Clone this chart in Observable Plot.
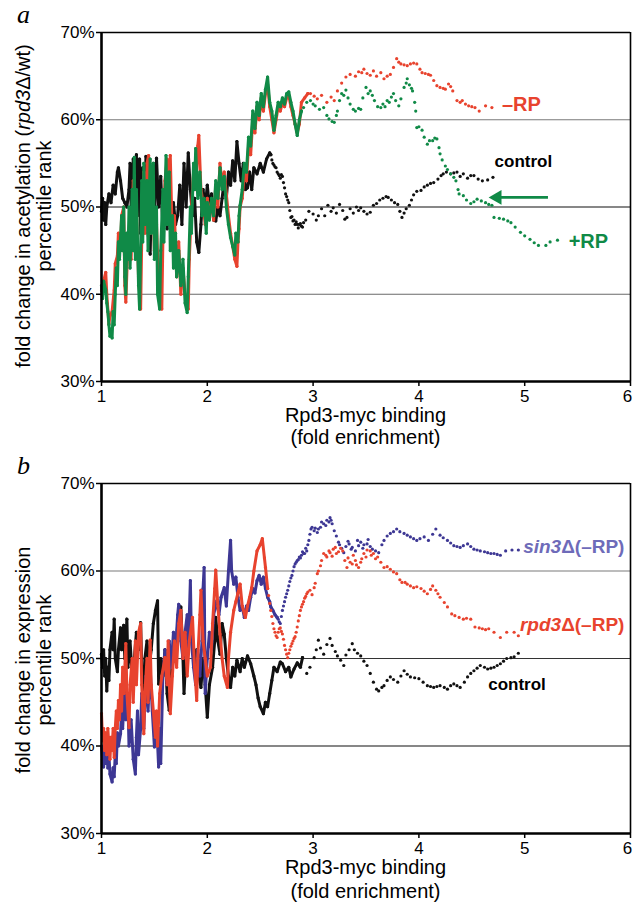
<!DOCTYPE html>
<html><head><meta charset="utf-8">
<script src="https://cdn.jsdelivr.net/npm/d3@7"></script>
<script src="https://cdn.jsdelivr.net/npm/@observablehq/plot@0.6"></script>
<style>
body{margin:0;background:#fff;}
#wrap{position:relative;width:633px;height:902px;overflow:hidden;background:#fff;}
#wrap svg{position:absolute;left:0;}
</style></head><body><div id="wrap"></div>
<script>
// ---------- data: [fold enrichment, percentile rank %] ----------
const xTicks = [1, 2, 3, 4, 5, 6];
const yTicks = [30, 40, 50, 60, 70];

// panel a – acetylation
const accControl = [[1.00,49.5],[1.01,51],[1.02,48.5],[1.03,50.5],[1.04,48],[1.05,50],[1.07,51.5],[1.09,50.5],[1.11,52.5],[1.13,51.5],[1.15,54],[1.16,54.5],[1.18,53],[1.20,51],[1.22,50.5],[1.24,50],[1.26,52],[1.27,55],[1.28,50],[1.30,55.5],[1.31,48.5],[1.33,56],[1.34,49],[1.36,55.5],[1.37,47],[1.39,54.5],[1.41,49],[1.42,55.8],[1.44,47],[1.46,44.6],[1.47,50],[1.49,55],[1.50,48],[1.52,55.6],[1.54,50],[1.56,53.5],[1.58,47.5],[1.60,52],[1.62,47.5],[1.64,51],[1.66,47.5],[1.68,50.5],[1.70,48],[1.72,49],[1.74,52.5],[1.76,48],[1.78,55],[1.80,50],[1.82,56.2],[1.84,52],[1.86,49],[1.88,51],[1.90,46],[1.92,44.8],[1.94,48],[1.96,52],[1.98,50],[2.00,52.5],[2.02,50],[2.04,51.5],[2.06,48.5],[2.08,48.4],[2.10,50],[2.12,49],[2.14,51],[2.16,53],[2.18,51],[2.20,54],[2.22,52.5],[2.24,55.3],[2.26,53],[2.28,57.5],[2.30,55],[2.32,53],[2.34,55],[2.36,52],[2.38,52.2],[2.40,54],[2.42,52],[2.44,54.5],[2.47,53.8],[2.50,55],[2.53,54],[2.56,55.5],[2.59,56.2],
  [2.60,56.0],[2.61,55.4],[2.62,55],[2.63,54.8],[2.64,54.6],[2.65,54.5],[2.66,54.0],[2.67,53.8],[2.68,53.6],[2.69,53.3],[2.70,53.7],[2.71,53.5],[2.72,52.8],[2.73,52.2],[2.74,51.5],[2.75,51.2],[2.76,50.8],[2.77,50.5],[2.78,49.6],[2.79,48.8],[2.80,48.9],[2.81,48.4],[2.82,48.5],[2.83,48.0],[2.84,48.3],[2.85,48],[2.86,47.6],[2.87,48.0],[2.88,48.1],[2.89,47.8],[2.90,47.7],[2.91,48.2],
  [2.93,48.5],[2.96,49.5],[3.00,49.2],[3.03,48.5],[3.05,49.0],[3.08,49.8],[3.11,49.0],[3.14,50.2],[3.17,49.5],[3.19,49.9],[3.22,49.3],[3.25,50.3],[3.28,49.6],[3.30,48.6],[3.32,48.8],[3.35,49.8],[3.38,49.3],[3.41,50.0],[3.43,49.6],[3.45,49.9],[3.48,49.5],[3.51,49.2],[3.54,49.4],[3.57,50.2],[3.60,50.4],[3.63,50.8],[3.66,51.0],[3.69,51.2],[3.71,51.1],[3.74,50.8],[3.77,50.5],[3.80,50.3],[3.82,49.5],[3.84,48.8],[3.86,49.3],[3.88,49.8],[3.91,50.2],[3.93,50.8],[3.95,51.4],[3.98,51.8],[4.02,51.9],[4.05,52.3],[4.08,52.5],[4.11,52.7],[4.14,52.8],[4.18,53.2],[4.21,53.6],[4.23,53.8],[4.26,54.0],[4.30,53.8],[4.33,53.9],[4.36,54.0],[4.39,53.5],[4.42,53.8],[4.46,53.3],[4.49,53.6],[4.52,53.6],[4.56,53.2],[4.60,53.0],[4.65,53.1],[4.70,53.4]];

const accMinusRP = [[1.00,40.4],[1.02,41.5],[1.04,42.5],[1.05,40],[1.07,36.6],[1.08,37.5],[1.10,38],[1.12,40.5],[1.13,43.5],[1.15,44.4],[1.16,47],[1.18,45],[1.19,49],[1.21,50],[1.22,41],[1.23,39.1],[1.25,46],[1.27,49],[1.28,44],[1.30,53],[1.31,46],[1.33,50],[1.35,42],[1.37,38.3],[1.38,46],[1.40,54],[1.41,47],[1.43,55],[1.445,55.9],[1.46,47],[1.48,54],[1.50,45],[1.52,48],[1.54,41],[1.57,38.3],[1.58,46],[1.60,53],[1.62,55.5],[1.64,50],[1.65,55.9],[1.67,46],[1.69,49],[1.71,42],[1.73,46],[1.75,40],[1.77,43],[1.79,40],[1.82,38.3],[1.83,44],[1.85,50],[1.87,54],[1.89,52],[1.91,57],[1.92,58.2],[1.94,52],[1.96,50.5],[1.98,48],[2.00,51],[2.02,49],[2.04,50.7],[2.06,48.5],[2.08,52.5],[2.10,50],[2.12,55],[2.14,52.5],[2.16,54],[2.18,51.5],[2.20,49],[2.22,47],[2.24,45.5],[2.26,44],[2.28,43.2],[2.29,46],[2.30,47.5],[2.31,50],[2.33,51],[2.35,54],[2.37,53],[2.39,57],[2.41,56],[2.43,60],[2.45,58.5],[2.47,61.5],[2.49,60],[2.51,62.5],[2.53,61],[2.55,63],[2.57,64],[2.59,61.5],[2.61,60],[2.63,58.5],[2.65,60],[2.67,61.5],[2.69,61],[2.71,62],[2.73,61.5],[2.75,62.5],[2.77,62.8],[2.79,61.5],[2.81,60.5],[2.83,59.5],[2.85,58.5],[2.87,59.5],[2.89,62],[2.92,62.5],[2.95,63],
  [2.975,63.0],[3.01,62.7],[3.04,62.4],[3.08,62.8],[3.13,62.0],[3.17,62.6],[3.20,62.2],[3.23,63.3],[3.27,64.2],[3.31,64.9],[3.35,65.2],[3.40,65.0],[3.43,65.5],[3.46,65.4],[3.48,65.8],[3.51,65.3],[3.54,65.1],[3.57,65.6],[3.60,65.0],[3.64,65.4],[3.67,64.7],[3.70,65.0],[3.73,65.2],[3.76,66.0],[3.79,67.0],[3.81,66.6],[3.83,66.4],[3.86,66.3],[3.89,66.2],[3.92,66.4],[3.95,66.5],[3.98,66.4],[4.01,65.8],[4.03,65.4],[4.06,65.3],[4.09,65.2],[4.11,65.1],[4.14,64.5],[4.17,63.9],[4.20,63.7],[4.23,63.6],[4.25,63.5],[4.28,64.1],[4.30,63.8],[4.32,63.3],[4.36,62.2],[4.39,62.0],[4.41,62.2],[4.44,61.8],[4.47,61.6],[4.50,61.5],[4.53,61.4],[4.57,61.0],[4.63,61.6],[4.69,61.4]];

const accPlusRP = [[1.00,41],[1.01,39.5],[1.02,41.5],[1.04,40.5],[1.05,39],[1.06,38],[1.07,36.5],[1.08,35.2],[1.09,36],[1.10,35],[1.11,38],[1.12,36.5],[1.13,40],[1.14,43],[1.15,41],[1.16,46],[1.17,44],[1.19,49],[1.20,45],[1.21,50],[1.22,42],[1.23,40],[1.24,47],[1.25,44],[1.26,50],[1.27,43],[1.29,52],[1.30,45],[1.31,55.7],[1.32,44],[1.33,52],[1.35,41],[1.36,38.3],[1.37,45],[1.38,53],[1.39,46],[1.40,55],[1.41,48],[1.43,53],[1.44,45],[1.46,55.5],[1.47,47],[1.49,55],[1.50,44],[1.52,50],[1.53,40],[1.55,38.3],[1.56,45],[1.58,52],[1.59,46],[1.61,55.9],[1.62,48],[1.64,54],[1.65,45],[1.67,49],[1.68,43],[1.70,47],[1.71,42],[1.73,45],[1.75,41],[1.77,44],[1.79,39],[1.81,37.9],[1.82,42],[1.84,50],[1.85,47],[1.87,55],[1.88,52],[1.89,56.7],[1.91,51],[1.93,54],[1.95,49],[1.97,51],[1.99,47],[2.00,50.5],[2.02,48.5],[2.04,51],[2.06,49],[2.08,53],[2.10,51],[2.12,54.5],[2.14,52],[2.16,53.5],[2.18,50],[2.20,48],[2.22,46.5],[2.24,45.5],[2.26,44.5],[2.27,47],[2.29,46],[2.30,49],[2.31,50.2],[2.33,52],[2.35,55],[2.37,54],[2.39,58],[2.41,57],[2.43,61],[2.45,59],[2.47,62],[2.49,60.5],[2.51,63],[2.53,61.5],[2.55,63.5],[2.57,64.9],[2.59,62],[2.61,61],[2.63,58.8],[2.65,60.5],[2.67,62],[2.69,61.5],[2.71,62.5],[2.73,61.8],[2.75,63],[2.77,63.2],[2.79,62],[2.81,61],[2.83,59.5],[2.85,58.2],[2.87,60],[2.89,61],
  [2.91,61.4],[2.94,62.0],[2.975,62.2],[3.00,61.8],[3.02,61.6],[3.06,61.2],[3.10,61.4],[3.13,60.5],[3.15,60.1],[3.18,59.8],[3.20,59.7],[3.22,60.5],[3.23,61.0],[3.25,62.2],[3.27,63.0],[3.29,62.8],[3.31,63.4],[3.33,62.5],[3.35,61.8],[3.38,61.2],[3.40,61.0],[3.43,61.3],[3.45,61.2],[3.47,62.5],[3.50,63.7],[3.52,63.0],[3.54,63.3],[3.56,62.8],[3.58,62.2],[3.61,61.5],[3.64,61.4],[3.66,61.8],[3.68,61.5],[3.70,62.2],[3.72,62.0],[3.74,62.6],[3.76,63.0],[3.78,62.2],[3.81,61.6],[3.83,62.4],[3.86,63.7],[3.88,64.2],[3.89,64.7],[3.91,64.0],[3.93,63.6],[3.94,63.3],[3.96,62.0],[3.97,61.0],[3.98,59.1],[4.00,59.2],[4.03,58.8],[4.05,58.0],[4.08,57.2],[4.10,57.6],[4.13,57.6],[4.15,57.9],[4.17,57.8],[4.19,56.8],[4.20,56.1],[4.22,55.4],[4.25,54.7],[4.27,54.3],[4.30,53.8],[4.33,53.4],[4.35,53.0],[4.37,52.0],[4.38,51.5],[4.42,51.3],[4.45,50.8],[4.49,50.4],[4.52,50.6],[4.55,50.9],[4.59,50.7],[4.63,50.5],[4.66,50.3],[4.69,50.2],[4.71,48.8],[4.76,48.7],[4.80,48.6],[4.84,48.4],[4.87,48.2],[4.91,47.7],[4.96,47.1],[5.00,46.7],[5.05,46.3],[5.09,45.9],[5.13,45.6],[5.20,45.6],[5.24,46.0],[5.31,46.2]];

// panel b – expression
const exprControl = [[1.00,50.5],[1.01,49],[1.02,51],[1.03,48],[1.04,50],[1.05,46.3],[1.06,49],[1.07,47.5],[1.08,51],[1.10,53],[1.11,51],[1.12,54.5],[1.13,50],[1.15,48.5],[1.16,51],[1.18,53.5],[1.19,51],[1.21,53.8],[1.22,50],[1.24,54.5],[1.25,49],[1.27,52],[1.29,48],[1.31,50],[1.33,53],[1.35,51],[1.37,54.1],[1.38,49],[1.40,46],[1.41,50],[1.43,52],[1.45,49],[1.47,51],[1.49,54],[1.51,55.5],[1.53,56.6],[1.54,47.1],[1.56,50],[1.58,48],[1.60,51],[1.62,46],[1.64,44.1],[1.66,48],[1.68,52],[1.70,50],[1.72,54],[1.74,53],[1.75,55.9],[1.77,50],[1.78,46],[1.80,51],[1.82,53],[1.84,54.7],[1.86,52],[1.88,49],[1.90,51],[1.92,48],[1.94,46.7],[1.96,50],[1.98,47],[2.00,43.3],[2.02,47],[2.05,49],[2.07,52],[2.08,54.7],[2.10,52],[2.12,50.5],[2.14,54],[2.16,52.8],[2.18,50],[2.20,48],[2.22,46.7],[2.24,49],[2.26,48],[2.28,49.8],[2.31,48.5],[2.33,50],[2.35,49],[2.38,50.3],[2.41,49.4],[2.44,48],[2.46,47],[2.48,45.5],[2.50,44.5],[2.53,43.7],[2.55,45],[2.57,44.5],[2.59,46],[2.61,47.5],[2.63,49],[2.66,48.5],[2.69,49.6],[2.71,49.4],[2.74,48.5],[2.77,49],[2.79,47.9],[2.82,48.8],[2.85,49.5],[2.88,49.0],[2.90,50.1],
  [2.94,48.3],[2.97,49.0],[3.01,50.1],[3.03,51.0],[3.05,52.1],[3.07,51.2],[3.10,50.5],[3.13,51.6],[3.16,52.3],[3.18,51.5],[3.21,50.8],[3.23,50.3],[3.26,49.8],[3.29,49.2],[3.31,50.4],[3.34,51.0],[3.37,51.7],[3.39,51.0],[3.42,50.6],[3.45,50.3],[3.48,49.7],[3.51,49.2],[3.54,48.3],[3.57,47.3],[3.60,46.5],[3.62,46.3],[3.65,46.7],[3.67,46.9],[3.70,47.5],[3.73,47.9],[3.76,47.6],[3.80,47.3],[3.83,48.0],[3.86,48.6],[3.89,48.2],[3.92,47.9],[3.96,47.8],[4.00,47.7],[4.04,47.3],[4.08,46.9],[4.11,46.8],[4.14,46.7],[4.17,46.8],[4.20,46.9],[4.24,46.7],[4.27,46.5],[4.30,46.9],[4.33,47.1],[4.36,46.9],[4.39,46.7],[4.43,47.3],[4.46,47.9],[4.49,48.3],[4.52,48.6],[4.55,48.9],[4.58,49.2],[4.62,49.0],[4.65,48.8],[4.68,48.9],[4.71,49.0],[4.74,49.2],[4.77,49.4],[4.80,49.7],[4.83,50.0],[4.87,50.1],[4.90,50.2],[4.94,50.6]];

const exprSin3 = [[1.00,40],[1.01,38.5],[1.02,37.6],[1.03,40.5],[1.04,38],[1.05,39.5],[1.06,37.5],[1.07,39],[1.08,36.8],[1.10,35.9],[1.11,37.5],[1.12,36.5],[1.13,39],[1.14,38],[1.15,41.5],[1.16,40],[1.18,41.4],[1.19,44],[1.20,42],[1.22,47],[1.23,43],[1.25,45],[1.26,40],[1.28,43],[1.30,38.5],[1.32,36.8],[1.33,41],[1.34,44],[1.35,39],[1.37,42],[1.38,46],[1.40,42],[1.42,48],[1.44,44],[1.46,49],[1.48,44],[1.50,39.9],[1.52,43],[1.54,37.6],[1.55,42],[1.56,38],[1.58,48],[1.60,51],[1.62,47],[1.64,52],[1.66,49],[1.68,53],[1.70,51],[1.72,55],[1.73,56.2],[1.75,52],[1.77,50],[1.79,53],[1.81,55],[1.82,51],[1.84,58.9],[1.85,52],[1.87,49],[1.89,47],[1.91,51],[1.93,48],[1.95,52],[1.96,58],[1.97,60.4],[1.98,46],[2.00,50],[2.02,53],[2.04,51],[2.06,55],[2.09,56.6],[2.11,55],[2.13,57],[2.16,58.1],[2.18,56],[2.20,60],[2.22,63.5],[2.23,60],[2.25,58.5],[2.27,59.3],[2.29,57],[2.31,55.5],[2.33,56],[2.35,54.7],[2.37,56],[2.39,55.5],[2.41,57.0],[2.43,58],[2.45,57.5],[2.47,58.9],[2.49,59.5],[2.51,58.5],[2.53,59.3],[2.55,58],[2.57,57],[2.59,56.5],[2.60,55.9],[2.62,55.5],[2.64,55],[2.66,54.7],
  [2.67,54.5],[2.68,54.2],[2.69,54.0],[2.70,54.8],[2.71,55.5],[2.72,56.0],[2.73,56.5],[2.74,57.0],[2.75,57.4],[2.76,57.8],[2.77,58.3],[2.78,58.8],[2.79,59.2],[2.80,59.5],[2.81,60.0],[2.82,60.5],[2.83,60.8],[2.84,61.0],[2.85,61.2],[2.86,61.3],[2.87,61.6],[2.88,61.5],[2.89,61.8],[2.90,62.2],[2.91,62.0],[2.92,62.0],[2.93,62.6],[2.94,62.3],[2.95,63.0],[2.96,63.5],[2.97,64.2],[2.98,64.8],[2.99,65.0],
  [3.01,64.6],[3.02,64.9],[3.04,64.4],[3.05,64.8],[3.07,65.0],[3.08,65.6],[3.10,65.4],[3.12,65.2],[3.13,65.8],[3.15,65.6],[3.16,66.1],[3.17,65.8],[3.18,65.4],[3.20,64.6],[3.22,64.0],[3.24,63.3],[3.25,63.0],[3.27,62.6],[3.29,62.1],[3.31,62.8],[3.33,63.4],[3.34,63.1],[3.36,62.5],[3.37,62.7],[3.40,62.3],[3.42,63.5],[3.43,62.9],[3.45,63.3],[3.47,62.6],[3.48,63.0],[3.51,63.1],[3.52,63.6],[3.54,62.8],[3.56,62.5],[3.59,62.3],[3.62,62.1],[3.65,63.0],[3.67,63.5],[3.70,64.0],[3.73,64.3],[3.76,64.5],[3.79,64.8],[3.82,64.5],[3.86,64.3],[3.89,64.1],[3.92,63.9],[3.95,63.7],[3.98,63.5],[4.01,63.7],[4.05,63.9],[4.09,63.5],[4.13,64.2],[4.16,64.8],[4.20,64.1],[4.23,63.8],[4.27,63.5],[4.30,63.2],[4.33,62.9],[4.36,62.8],[4.39,62.7],[4.42,62.9],[4.46,63.1],[4.49,62.8],[4.52,62.5],[4.55,62.4],[4.58,62.3],[4.62,62.2],[4.65,62.1],[4.68,62.0],[4.71,62.0],[4.74,61.9],[4.77,61.8],[4.82,62.3],[4.88,62.4],[4.94,62.4]];

const exprRpd3 = [[1.00,43.7],[1.01,40.6],[1.02,42],[1.03,39.5],[1.04,41.5],[1.05,39],[1.06,42],[1.07,40],[1.08,38.5],[1.09,41],[1.10,39.5],[1.11,42],[1.12,38.7],[1.13,42],[1.14,44],[1.15,42],[1.16,45.2],[1.17,43],[1.18,47],[1.19,44],[1.20,49],[1.21,46],[1.23,51.7],[1.24,46],[1.26,42.1],[1.27,47],[1.29,50],[1.30,45],[1.32,52],[1.33,47],[1.35,53],[1.37,54.0],[1.38,47],[1.40,41.4],[1.41,46],[1.43,50],[1.44,45],[1.46,52.1],[1.47,47],[1.49,44],[1.51,41.0],[1.52,44],[1.53,40],[1.55,46],[1.57,48],[1.60,50.1],[1.62,47],[1.63,52],[1.65,43.7],[1.67,48],[1.69,52],[1.71,49],[1.73,54],[1.75,55.5],[1.77,50],[1.79,53],[1.81,48],[1.83,52],[1.86,54.7],[1.88,49],[1.90,45.2],[1.91,50],[1.93,55],[1.94,57.8],[1.96,52],[1.98,50],[2.00,48],[2.03,49.0],[2.05,54],[2.07,58],[2.08,60.1],[2.10,56],[2.12,52.8],[2.14,50],[2.16,48],[2.19,46.7],[2.20,50],[2.22,53],[2.25,55.5],[2.27,56.5],[2.29,57.5],[2.31,58.5],[2.33,56],[2.36,54.7],[2.38,56],[2.40,57],[2.42,58.1],[2.44,60],[2.47,62.3],[2.50,63],[2.52,63.7],[2.54,61.5],[2.55,60.4],[2.57,58],
  [2.58,57.2],[2.59,56.3],[2.60,55.5],[2.61,54.8],[2.62,54],[2.63,53.4],[2.64,53],[2.65,52.6],[2.66,52.4],[2.67,53.0],[2.68,53.4],[2.69,53.5],[2.70,53.1],[2.71,52.8],[2.72,52.2],[2.73,51.5],[2.74,51.0],[2.75,50.5],[2.76,50.1],[2.77,50.6],[2.78,51],[2.79,51.4],[2.80,51.7],[2.81,52.0],[2.82,52.3],[2.83,52.5],[2.84,53.0],[2.85,53.6],[2.86,54.3],[2.87,54.9],[2.88,55.5],[2.89,55.9],[2.90,56.2],[2.91,56.5],[2.92,56.9],[2.93,57.1],[2.94,57.4],[2.95,57.6],
  [2.97,57.8],[2.99,57.3],[3.01,58.1],[3.02,58.6],[3.04,59.7],[3.05,60.0],[3.07,60.6],[3.08,61.2],[3.10,62.0],[3.12,61.8],[3.13,61.6],[3.15,62.3],[3.16,62.1],[3.18,61.7],[3.19,62.5],[3.21,62.7],[3.22,62.0],[3.24,62.2],[3.26,62.6],[3.28,62.3],[3.30,61.2],[3.32,60.4],[3.33,61.5],[3.35,61.0],[3.37,60.8],[3.38,61.8],[3.40,61.2],[3.41,60.7],[3.43,60.4],[3.45,61.0],[3.46,61.4],[3.48,62.0],[3.50,61.6],[3.51,62.4],[3.54,62.3],[3.55,61.8],[3.57,62.0],[3.59,61.4],[3.61,61.6],[3.64,61.0],[3.67,60.4],[3.70,60.5],[3.73,60.2],[3.76,59.9],[3.79,59.7],[3.82,59.0],[3.84,58.7],[3.87,58.7],[3.89,58.5],[3.92,58.3],[3.95,58.1],[3.98,58.2],[4.02,58.0],[4.05,57.7],[4.08,57.4],[4.11,57.9],[4.13,58.3],[4.16,57.8],[4.18,57.4],[4.20,57.0],[4.24,56.4],[4.27,55.9],[4.31,55.1],[4.34,54.9],[4.38,54.7],[4.42,54.5],[4.45,54.6],[4.49,54.5],[4.53,53.6],[4.57,53.5],[4.60,53.4],[4.63,53.3],[4.66,53.4],[4.71,53.0],[4.77,52.4],[4.83,53.0],[4.90,53.0],[4.94,52.6]];

// ---------- drawing ----------
const SANS = '"Liberation Sans", Arial, Helvetica, sans-serif';
const SERIF = '"Liberation Serif", "Times New Roman", serif';
const RED = "#e8432e", GREEN = "#108a47", BLUE = "#3d3794", BLACK = "#111";
const toObj = a => a.map(([x, y]) => ({x, y}));
const fmtX = d => String(d);

function seriesMarks(arr, color, split) {
  const d = toObj(arr);
  const dense = d.filter(p => p.x <= split);
  return [
    Plot.line(dense, {x: "x", y: "y", stroke: color, strokeWidth: 3, strokeLinejoin: "round", strokeLinecap: "round"}),
    Plot.dot(dense, {x: "x", y: "y", r: 1.6, fill: color, stroke: "none"}),
    Plot.dot(d.filter(p => p.x >= split), {x: "x", y: "y", r: 1.6, fill: color, stroke: "none"})
  ];
}

function panel({height, top, marginTop, series, grid, extra}) {
  const plot = Plot.plot({
    width: 633, height, marginLeft: 101, marginRight: 3, marginTop, marginBottom: 69,
    x: {domain: [1, 6]}, y: {domain: [30, 70]},
    style: {fontFamily: SANS, background: "white", overflow: "visible"},
    marks: [
      ...grid.map(g => Plot.ruleY([g.v], {stroke: g.c, strokeWidth: 1.2})),
      ...series.flatMap(s => seriesMarks(s.data, s.color, s.split)),
      ...(extra || []),
      Plot.axisY({ticks: yTicks, tickFormat: d => d + "%", tickSize: 5, tickPadding: 2, fontSize: 17, label: null, stroke: "black", strokeWidth: 1.5}),
      Plot.axisX({ticks: xTicks, tickSize: 5, label: null, text: null, stroke: "black", strokeWidth: 1.5}),
      Plot.axisX({ticks: xTicks.filter(t => t < 6), tickFormat: fmtX, tickSize: 0, tickPadding: 8, fontSize: 17, label: null}),
      Plot.axisX({ticks: xTicks.filter(t => t === 6), tickFormat: fmtX, tickSize: 0, tickPadding: 8, fontSize: 17, label: null, dx: -3}),
      Plot.ruleY([70], {stroke: "black", strokeWidth: 1.6}),
      Plot.ruleX([6], {stroke: "black", strokeWidth: 1.6}),
      Plot.ruleX([1], {stroke: "black", strokeWidth: 2.6}),
      Plot.ruleY([30], {stroke: "black", strokeWidth: 2.6})
    ]
  });
  plot.style.top = top + "px";
  document.getElementById("wrap").appendChild(plot);
  return plot;
}

function addText(svg, x, y, parts, opts) {
  const t = svg.append("text").attr("x", x).attr("y", y)
    .attr("font-family", opts.family || SANS).attr("font-size", opts.size)
    .attr("font-weight", opts.weight || "normal").attr("fill", opts.fill || "black")
    .attr("text-anchor", opts.anchor || "start");
  if (opts.rotate) t.attr("transform", `rotate(-90 ${x} ${y})`);
  if (opts.baseline) t.attr("dominant-baseline", opts.baseline);
  parts.forEach(p => {
    const s = t.append("tspan").text(typeof p === "string" ? p : p.t);
    if (p.italic) s.attr("font-style", "italic");
  });
  return t;
}

// ----- panel a -----
const arrowA = [{x1: 5.22, x2: 4.74, y: 51.1}];
const plotA = panel({
  height: 450, top: 0, marginTop: 32,
  grid: [{v: 40, c: "#6a6a6a"}, {v: 50, c: "#111"}, {v: 60, c: "#7a7a7a"}],
  series: [
    {data: accControl, color: BLACK, split: 2.60},
    {data: accMinusRP, color: RED, split: 2.95},
    {data: accPlusRP, color: GREEN, split: 2.89}
  ],
  extra: [
    Plot.link(arrowA, {x1: "x1", x2: "x2", y1: "y", y2: "y", stroke: GREEN, strokeWidth: 2.6}),
    Plot.dot(arrowA, {x: "x2", y: "y", symbol: "triangle", r: 5.5, rotate: -90, fill: GREEN, stroke: "none"})
  ]
});
{
  const svg = d3.select(plotA), sx = plotA.scale("x"), sy = plotA.scale("y");
  addText(svg, sx.apply(4.79), sy.apply(61.5), ["–RP"], {size: 20, weight: "bold", fill: RED, baseline: "middle"});
  addText(svg, sx.apply(4.72), sy.apply(55.0), ["control"], {size: 17, weight: "bold", baseline: "middle"});
  addText(svg, sx.apply(5.42), sy.apply(45.8), ["+RP"], {size: 20, weight: "bold", fill: GREEN, baseline: "middle"});
  addText(svg, 17, 23, [{t: "a", italic: true}], {size: 26, family: SERIF});
  addText(svg, 30, 206, ["fold change in acetylation (", {t: "rpd3", italic: true}, "Δ/wt)"], {size: 20, anchor: "middle", rotate: true});
  addText(svg, 51, 206, ["percentile rank"], {size: 20, anchor: "middle", rotate: true});
  addText(svg, 365.5, 422, ["Rpd3-myc binding"], {size: 20, anchor: "middle"});
  addText(svg, 365.5, 444, ["(fold enrichment)"], {size: 20, anchor: "middle"});
}

// ----- panel b -----
const plotB = panel({
  height: 452, top: 450, marginTop: 33,
  grid: [{v: 40, c: "#111"}, {v: 50, c: "#333"}, {v: 60, c: "#7a7a7a"}],
  series: [
    {data: exprControl, color: BLACK, split: 2.90},
    {data: exprSin3, color: BLUE, split: 2.66},
    {data: exprRpd3, color: RED, split: 2.57}
  ]
});
{
  const svg = d3.select(plotB), sx = plotB.scale("x"), sy = plotB.scale("y");
  addText(svg, sx.apply(4.99), sy.apply(62.6), [{t: "sin3", italic: true}, "Δ(–RP)"], {size: 19, weight: "bold", fill: "#6e6bb9", baseline: "middle"});
  addText(svg, sx.apply(4.96), sy.apply(53.7), [{t: "rpd3", italic: true}, "Δ(–RP)"], {size: 19, weight: "bold", fill: RED, baseline: "middle"});
  addText(svg, sx.apply(4.66), sy.apply(46.8), ["control"], {size: 17, weight: "bold", baseline: "middle"});
  addText(svg, 17, 24, [{t: "b", italic: true}], {size: 26, family: SERIF});
  addText(svg, 30, 210, ["fold change in expression"], {size: 20, anchor: "middle", rotate: true});
  addText(svg, 51, 210, ["percentile rank"], {size: 20, anchor: "middle", rotate: true});
  addText(svg, 365.5, 424, ["Rpd3-myc binding"], {size: 20, anchor: "middle"});
  addText(svg, 365.5, 447.5, ["(fold enrichment)"], {size: 20, anchor: "middle"});
}
</script></body></html>
